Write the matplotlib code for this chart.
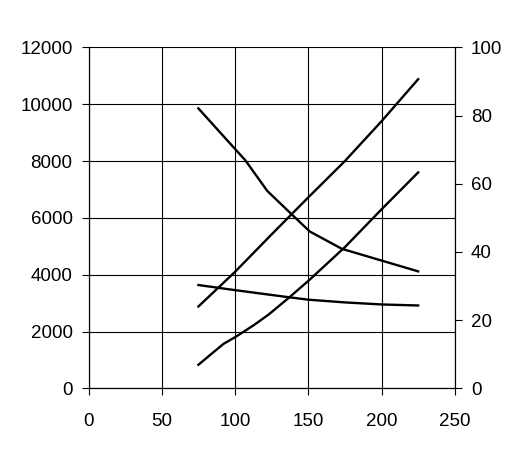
import matplotlib
matplotlib.use("Agg")
import matplotlib.pyplot as plt

plt.rcParams['font.family'] = ['Liberation Sans', 'DejaVu Sans']

# rising curves, left axis
x_up = [75, 100, 125, 150, 175, 200, 225]
y_up = [2880, 4100, 5420, 6720, 8000, 9400, 10880]

x_low = [75, 92, 101, 113, 123, 137, 150, 175, 200, 225]
y_low = [830, 1560, 1830, 2230, 2600, 3200, 3780, 4970, 6300, 7600]

# falling curves, right axis
x_dec = [75, 100, 107, 122, 138, 151, 173, 225]
y_dec = [82.1, 70.2, 66.9, 57.9, 51.3, 46.0, 40.9, 34.3]

x_flat = [75, 100, 137, 150, 175, 200, 225]
y_flat = [30.3, 28.8, 26.7, 26.0, 25.2, 24.6, 24.3]

fig = plt.figure(figsize=(5.27, 4.69), dpi=100)
ax = fig.add_axes([0.168, 0.172, 0.695, 0.727])
ax2 = ax.twinx()

lw = 1.7
ax.plot(x_up, y_up, color='black', lw=lw)
ax.plot(x_low, y_low, color='black', lw=lw)
ax2.plot(x_dec, y_dec, color='black', lw=lw)
ax2.plot(x_flat, y_flat, color='black', lw=lw)

ax.set_xlim(0, 250)
ax.set_ylim(0, 12000)
ax2.set_ylim(0, 100)
ax.set_xticks(range(0, 251, 50))
ax.set_yticks(range(0, 12001, 2000))
ax2.set_yticks(range(0, 101, 20))

ax.grid(True, color='black', lw=0.8)
ax.set_axisbelow(True)
for a in (ax, ax2):
    for s in a.spines.values():
        s.set_linewidth(0.8)
    a.spines['top'].set_visible(False)

fs = 13.5
ax.tick_params(axis='y', direction='out', length=5, width=0.8, pad=6.5, labelsize=fs)
ax.tick_params(axis='x', direction='out', length=5, width=0.8, pad=13, labelsize=fs)
ax2.tick_params(axis='y', direction='out', length=5, width=0.8, pad=6.5, labelsize=fs)

fig.savefig('out.png', dpi=100)
